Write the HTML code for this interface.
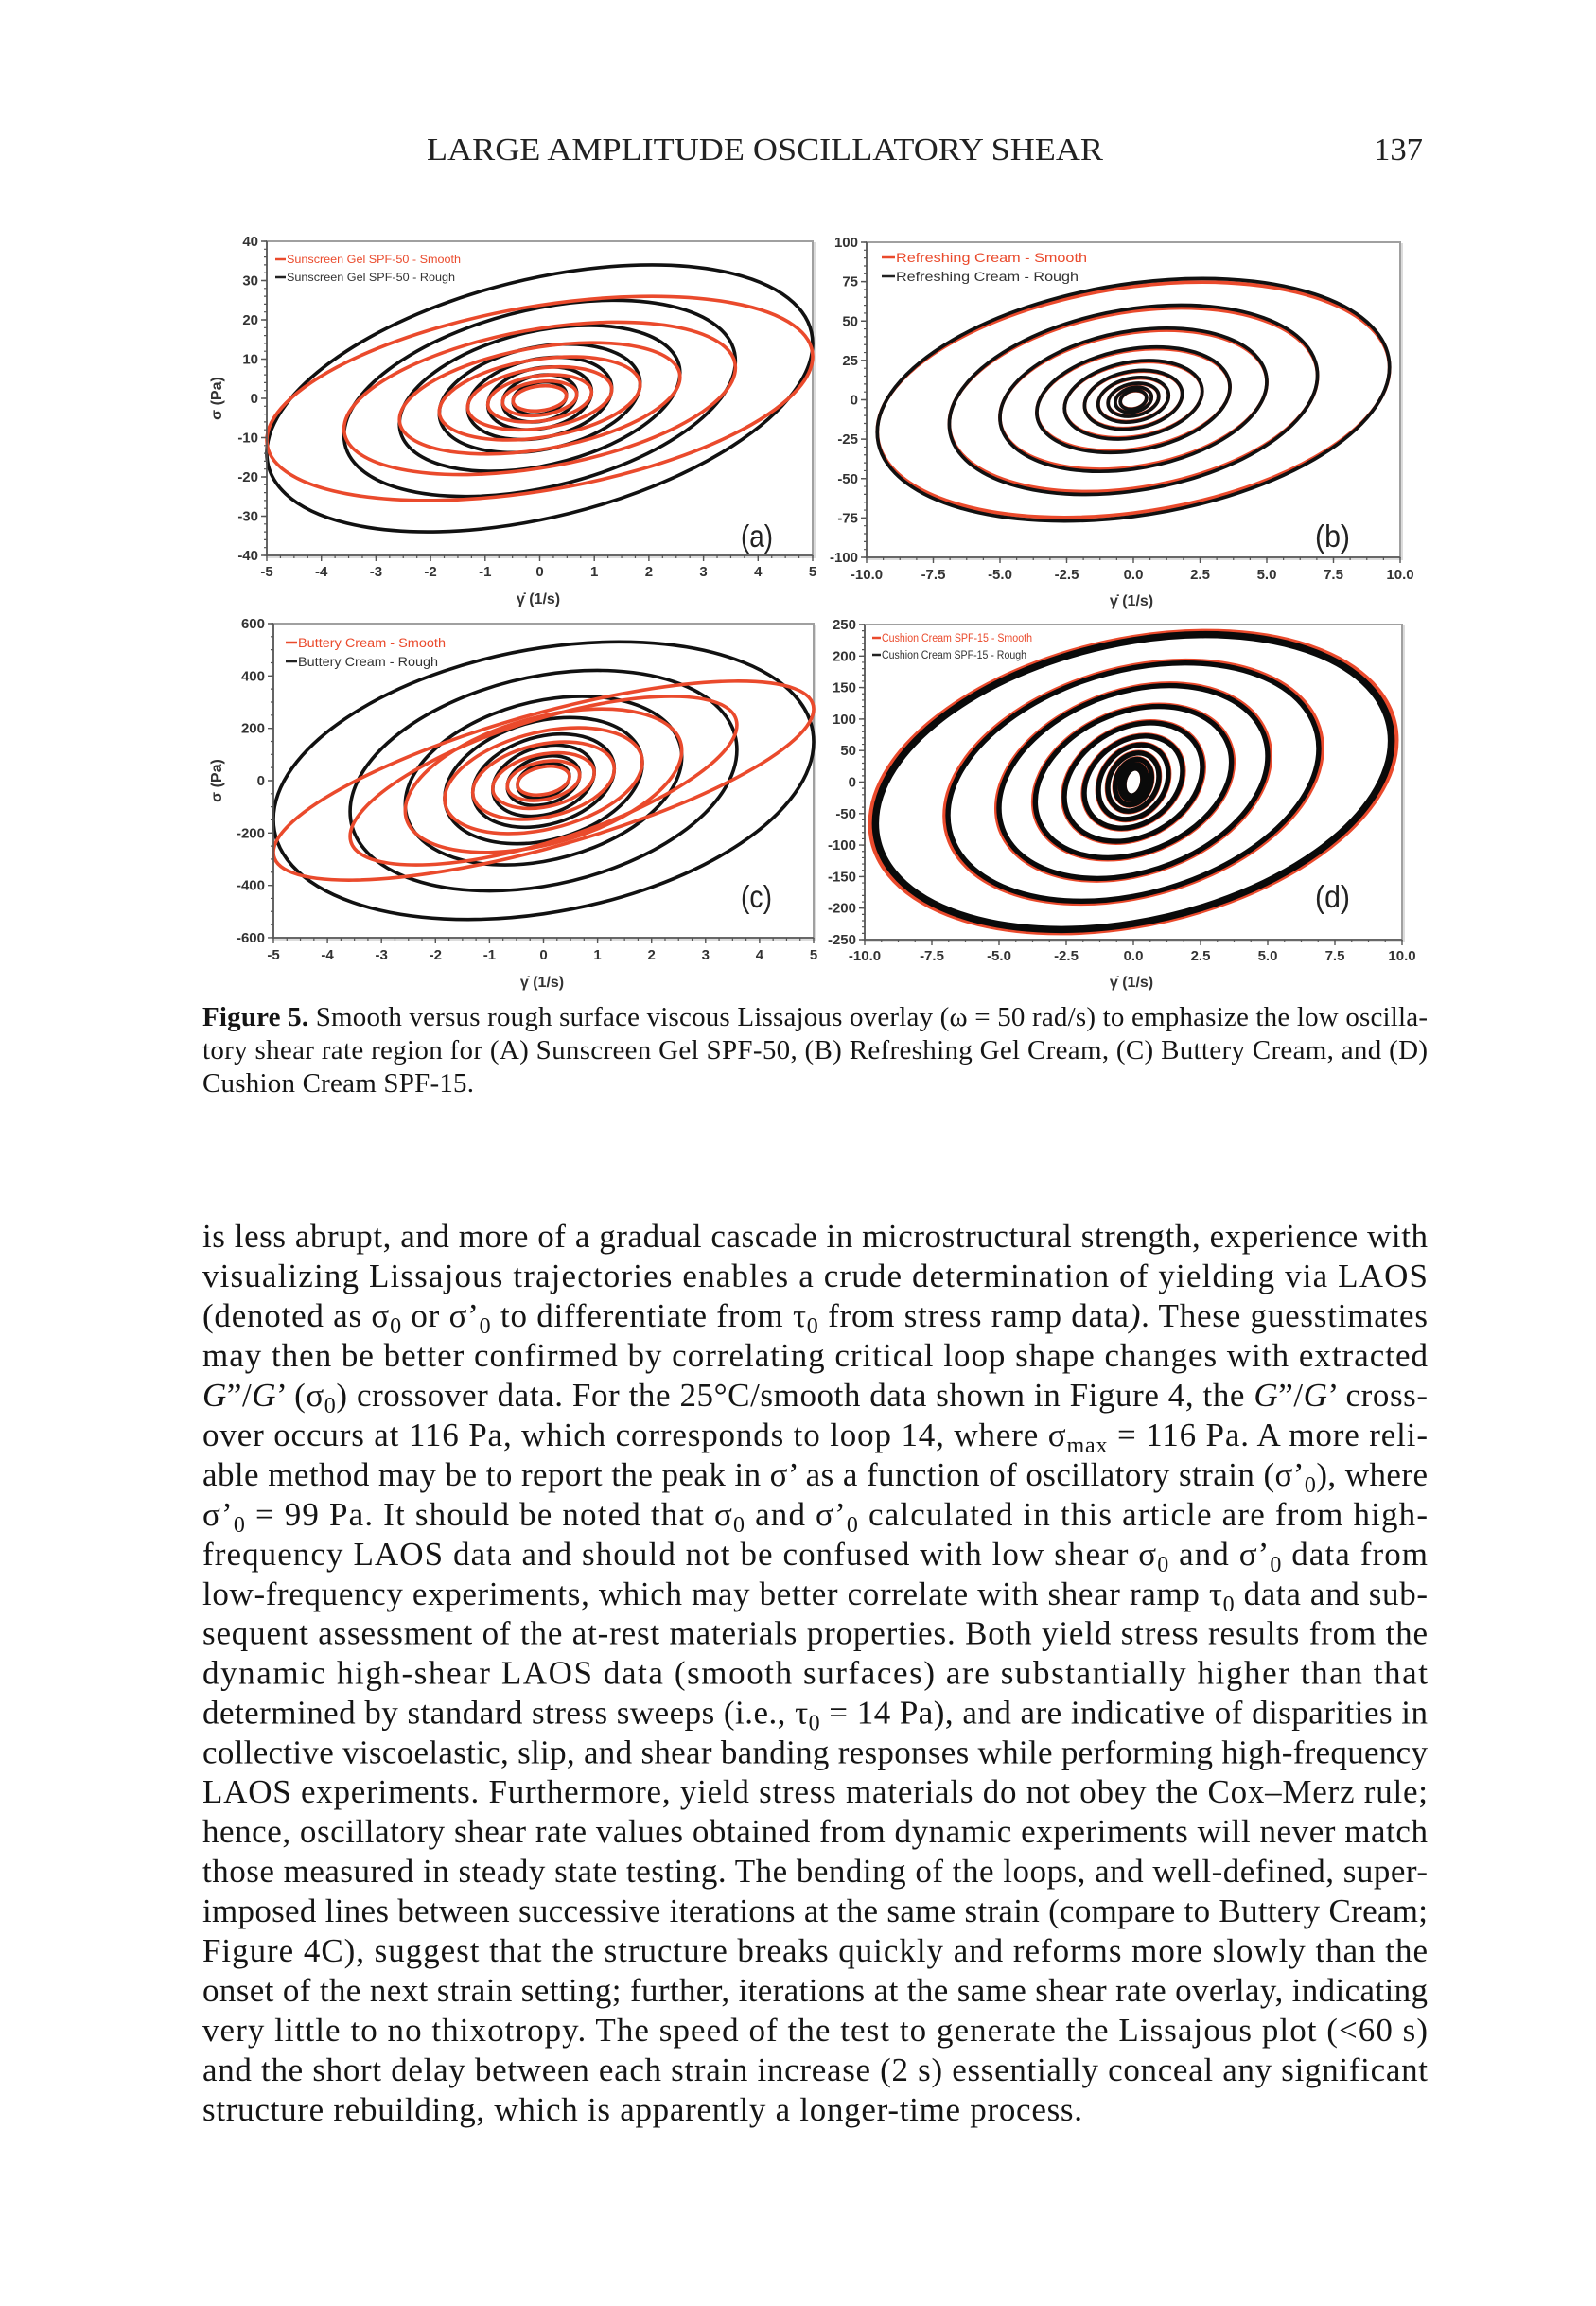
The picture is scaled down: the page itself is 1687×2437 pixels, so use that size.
<!DOCTYPE html>
<html><head><meta charset="utf-8"><style>
html,body{margin:0;padding:0;background:#fff;}
svg{display:block;}
.tk{font-family:"Liberation Sans",Arial,sans-serif;font-weight:bold;font-size:15px;fill:#333;}
.tl{font-family:"Liberation Sans",Arial,sans-serif;font-weight:bold;font-size:16px;fill:#333;}
.lg{font-family:"Liberation Sans",Arial,sans-serif;}
.pl{font-family:"Liberation Sans",Arial,sans-serif;font-size:33px;fill:#222;}
.bt{font-family:"Liberation Serif","Times New Roman",serif;font-size:35px;fill:#151515;}
.cp{font-family:"Liberation Serif","Times New Roman",serif;font-size:29px;fill:#151515;}
.hd{font-family:"Liberation Serif","Times New Roman",serif;font-size:34px;fill:#222;}
</style></head><body>
<svg width="1687" height="2437" viewBox="0 0 1687 2437" xmlns="http://www.w3.org/2000/svg">
<rect width="1687" height="2437" fill="#fff"/>

<!-- Header -->
<text class="hd" x="451" y="169" textLength="715" lengthAdjust="spacingAndGlyphs">LARGE AMPLITUDE OSCILLATORY SHEAR</text>
<text class="hd" x="1452" y="169" textLength="52" lengthAdjust="spacingAndGlyphs">137</text>

<!-- ================= PANEL A ================= -->
<g>
<rect x="284" y="257" width="577" height="332" fill="none" stroke="#dcdcdc" stroke-width="2"/>
<rect x="282" y="255" width="577" height="332" fill="#fff" stroke="#a0a0a0" stroke-width="2"/>
<g transform="translate(570.5 421) scale(57.7 -4.15)" fill="none">
<g stroke="#111" stroke-width="3.6">
<circle r="1" vector-effect="non-scaling-stroke" transform="matrix(0 31 5 13.94 0 0)"/>
<circle r="1" vector-effect="non-scaling-stroke" transform="matrix(0 23.1 3.585 9.5 0 0)"/>
<circle r="1" vector-effect="non-scaling-stroke" transform="matrix(0 17.4 2.57 6.5 0 0)"/>
<circle r="1" vector-effect="non-scaling-stroke" transform="matrix(0 13.25 1.84 3.86 0 0)"/>
<circle r="1" vector-effect="non-scaling-stroke" transform="matrix(0 10.16 1.32 2.63 0 0)"/>
<circle r="1" vector-effect="non-scaling-stroke" transform="matrix(0 7.8 0.95 1.76 0 0)"/>
<circle r="1" vector-effect="non-scaling-stroke" transform="matrix(0 5.88 0.68 1.2 0 0)"/>
<circle r="1" vector-effect="non-scaling-stroke" transform="matrix(0 4.12 0.49 0.84 0 0)"/>
</g>
<g stroke="#ea4a2c" stroke-width="3.6">
<circle r="1" vector-effect="non-scaling-stroke" transform="matrix(0 23.7 5 10.66 0 0)"/>
<circle r="1" vector-effect="non-scaling-stroke" transform="matrix(0 17.8 3.585 7.76 0 0)"/>
<circle r="1" vector-effect="non-scaling-stroke" transform="matrix(0 13.1 2.57 5.4 0 0)"/>
<circle r="1" vector-effect="non-scaling-stroke" transform="matrix(0 10.04 1.84 3.39 0 0)"/>
<circle r="1" vector-effect="non-scaling-stroke" transform="matrix(0 7.68 1.32 2.24 0 0)"/>
<circle r="1" vector-effect="non-scaling-stroke" transform="matrix(0 5.81 0.95 1.5 0 0)"/>
<circle r="1" vector-effect="non-scaling-stroke" transform="matrix(0 4.29 0.68 0.97 0 0)"/>
<circle r="1" vector-effect="non-scaling-stroke" transform="matrix(0 3.14 0.49 0.64 0 0)"/>
</g>
</g>
<g stroke="#555">
<line x1="282" y1="255" x2="282" y2="588" stroke-width="1.6"/>
<line x1="281" y1="587" x2="859" y2="587" stroke-width="1.6"/>
<line x1="280.5" y1="254.4" x2="280.5" y2="588" stroke-width="3" stroke-dasharray="1.2 7.1"/>
<line x1="279" y1="254.3" x2="279" y2="588" stroke-width="6" stroke-dasharray="1.4 40.1"/>
<line x1="281.4" y1="588.5" x2="860" y2="588.5" stroke-width="3" stroke-dasharray="1.2 13.225"/>
<line x1="281.3" y1="590" x2="860" y2="590" stroke-width="6" stroke-dasharray="1.4 56.3"/>
</g>
<g class="tk" text-anchor="end">
<text x="273" y="260">40</text><text x="273" y="301.5">30</text><text x="273" y="343">20</text>
<text x="273" y="384.5">10</text><text x="273" y="426">0</text><text x="273" y="467.5">-10</text>
<text x="273" y="509">-20</text><text x="273" y="550.5">-30</text><text x="273" y="592">-40</text>
</g>
<g class="tk" text-anchor="middle">
<text x="282" y="609">-5</text><text x="339.7" y="609">-4</text><text x="397.4" y="609">-3</text>
<text x="455.1" y="609">-2</text><text x="512.8" y="609">-1</text><text x="570.5" y="609">0</text>
<text x="628.2" y="609">1</text><text x="685.9" y="609">2</text><text x="743.6" y="609">3</text>
<text x="801.3" y="609">4</text><text x="859" y="609">5</text>
</g>
<text class="tl" x="569" y="638" text-anchor="middle">γ̇  (1/s)</text>
<text class="tl" transform="translate(234 421) rotate(-90)" text-anchor="middle">σ  (Pa)</text>
<line x1="291" y1="274" x2="302" y2="274" stroke="#ea4a2c" stroke-width="2.5"/>
<line x1="291" y1="293" x2="302" y2="293" stroke="#222" stroke-width="2.5"/>
<text class="lg" x="303" y="278" font-size="12" fill="#ea4a2c" textLength="184" lengthAdjust="spacingAndGlyphs">Sunscreen Gel SPF-50 - Smooth</text>
<text class="lg" x="303" y="297" font-size="12" fill="#333" textLength="178" lengthAdjust="spacingAndGlyphs">Sunscreen Gel SPF-50 - Rough</text>
<text class="pl" x="783" y="578" textLength="34" lengthAdjust="spacingAndGlyphs">(a)</text>
</g>

<!-- ================= PANEL B ================= -->
<g>
<rect x="918" y="258" width="564" height="333" fill="none" stroke="#dcdcdc" stroke-width="2"/>
<rect x="916" y="256" width="564" height="333" fill="#fff" stroke="#a0a0a0" stroke-width="2"/>
<g transform="translate(1198 422.5) scale(28.2 -1.665)" fill="none">
<g stroke="#ea4a2c" stroke-width="3.8">
<circle r="1" vector-effect="non-scaling-stroke" transform="matrix(0 71.9 9.6 20.2 0 0)"/>
<circle r="1" vector-effect="non-scaling-stroke" transform="matrix(0 56.3 6.9 15.1 0 0)"/>
<circle r="1" vector-effect="non-scaling-stroke" transform="matrix(0 42.7 5 11.1 0 0)"/>
<circle r="1" vector-effect="non-scaling-stroke" transform="matrix(0 31.5 3.62 7.8 0 0)"/>
<circle r="1" vector-effect="non-scaling-stroke" transform="matrix(0 23.6 2.58 5.3 0 0)"/>
<circle r="1" vector-effect="non-scaling-stroke" transform="matrix(0 17.8 1.83 3.63 0 0)"/>
<circle r="1" vector-effect="non-scaling-stroke" transform="matrix(0 13.5 1.32 2.75 0 0)"/>
<circle r="1" vector-effect="non-scaling-stroke" transform="matrix(0 10 0.95 2.04 0 0)"/>
<circle r="1" vector-effect="non-scaling-stroke" transform="matrix(0 7.6 0.68 1.55 0 0)"/>
<circle r="1" vector-effect="non-scaling-stroke" transform="matrix(0 5.7 0.49 1.16 0 0)"/>
</g>
<g stroke="#111" stroke-width="3.7">
<circle r="1" vector-effect="non-scaling-stroke" transform="matrix(0 74.1 9.6 20.8 0 0)"/>
<circle r="1" vector-effect="non-scaling-stroke" transform="matrix(0 58 6.9 15.6 0 0)"/>
<circle r="1" vector-effect="non-scaling-stroke" transform="matrix(0 44 5 11.4 0 0)"/>
<circle r="1" vector-effect="non-scaling-stroke" transform="matrix(0 32.5 3.62 8.04 0 0)"/>
<circle r="1" vector-effect="non-scaling-stroke" transform="matrix(0 24.3 2.58 5.48 0 0)"/>
<circle r="1" vector-effect="non-scaling-stroke" transform="matrix(0 18.3 1.83 3.74 0 0)"/>
<circle r="1" vector-effect="non-scaling-stroke" transform="matrix(0 13.9 1.32 2.84 0 0)"/>
<circle r="1" vector-effect="non-scaling-stroke" transform="matrix(0 10.3 0.95 2.1 0 0)"/>
<circle r="1" vector-effect="non-scaling-stroke" transform="matrix(0 7.84 0.68 1.6 0 0)"/>
<circle r="1" vector-effect="non-scaling-stroke" transform="matrix(0 5.88 0.49 1.2 0 0)"/>
</g>
</g>
<g stroke="#555">
<line x1="916" y1="256" x2="916" y2="590" stroke-width="1.6"/>
<line x1="915" y1="589" x2="1480" y2="589" stroke-width="1.6"/>
<line x1="914.5" y1="255.4" x2="914.5" y2="590" stroke-width="3" stroke-dasharray="1.2 7.125"/>
<line x1="913" y1="255.3" x2="913" y2="590" stroke-width="6" stroke-dasharray="1.4 40.225"/>
<line x1="915.4" y1="590.5" x2="1481" y2="590.5" stroke-width="3" stroke-dasharray="1.2 16.425"/>
<line x1="915.3" y1="592" x2="1481" y2="592" stroke-width="6" stroke-dasharray="1.4 69.1"/>
</g>
<g class="tk" text-anchor="end">
<text x="907" y="261">100</text><text x="907" y="302.6">75</text><text x="907" y="344.3">50</text>
<text x="907" y="385.9">25</text><text x="907" y="427.5">0</text><text x="907" y="469.1">-25</text>
<text x="907" y="510.8">-50</text><text x="907" y="552.4">-75</text><text x="907" y="594">-100</text>
</g>
<g class="tk" text-anchor="middle">
<text x="916" y="612">-10.0</text><text x="986.5" y="612">-7.5</text><text x="1057" y="612">-5.0</text>
<text x="1127.5" y="612">-2.5</text><text x="1198" y="612">0.0</text><text x="1268.5" y="612">2.5</text>
<text x="1339" y="612">5.0</text><text x="1409.5" y="612">7.5</text><text x="1480" y="612">10.0</text>
</g>
<text class="tl" x="1196" y="640" text-anchor="middle">γ̇  (1/s)</text>
<line x1="932" y1="272" x2="946" y2="272" stroke="#ea4a2c" stroke-width="2.5"/>
<line x1="932" y1="292" x2="946" y2="292" stroke="#222" stroke-width="2.5"/>
<text class="lg" x="947" y="277" font-size="14" fill="#ea4a2c" textLength="202" lengthAdjust="spacingAndGlyphs">Refreshing Cream - Smooth</text>
<text class="lg" x="947" y="297" font-size="14" fill="#333" textLength="193" lengthAdjust="spacingAndGlyphs">Refreshing Cream - Rough</text>
<text class="pl" x="1390" y="578" textLength="37" lengthAdjust="spacingAndGlyphs">(b)</text>
</g>

<!-- ================= PANEL C ================= -->
<g>
<rect x="291" y="661" width="571" height="332" fill="none" stroke="#dcdcdc" stroke-width="2"/>
<rect x="289" y="659" width="571" height="332" fill="#fff" stroke="#a0a0a0" stroke-width="2"/>
<g transform="translate(574.5 825) scale(57.1 -0.2767)" fill="none">
<g stroke="#111" stroke-width="3.6">
<circle r="1" vector-effect="non-scaling-stroke" transform="matrix(0 508.8 5 148.4 0 0)"/>
<circle r="1" vector-effect="non-scaling-stroke" transform="matrix(0 404.2 3.58 117.9 0 0)"/>
<circle r="1" vector-effect="non-scaling-stroke" transform="matrix(0 309.1 2.56 90.2 0 0)"/>
<circle r="1" vector-effect="non-scaling-stroke" transform="matrix(0 232.1 1.83 65.1 0 0)"/>
<circle r="1" vector-effect="non-scaling-stroke" transform="matrix(0 171.9 1.31 46.3 0 0)"/>
<circle r="1" vector-effect="non-scaling-stroke" transform="matrix(0 131.6 0.94 34 0 0)"/>
<circle r="1" vector-effect="non-scaling-stroke" transform="matrix(0 92 0.67 23.75 0 0)"/>
<circle r="1" vector-effect="non-scaling-stroke" transform="matrix(0 65.8 0.48 17 0 0)"/>
</g>
<g stroke="#ea4a2c" stroke-width="3.6">
<circle r="1" vector-effect="non-scaling-stroke" transform="matrix(0 263.7 5 273.6 0 0)"/>
<circle r="1" vector-effect="non-scaling-stroke" transform="matrix(0 241.8 3.58 212.5 0 0)"/>
<circle r="1" vector-effect="non-scaling-stroke" transform="matrix(0 248.5 2.56 115.1 0 0)"/>
<circle r="1" vector-effect="non-scaling-stroke" transform="matrix(0 189.3 1.83 70.7 0 0)"/>
<circle r="1" vector-effect="non-scaling-stroke" transform="matrix(0 141.2 1.31 44.4 0 0)"/>
<circle r="1" vector-effect="non-scaling-stroke" transform="matrix(0 101.8 0.94 29.7 0 0)"/>
<circle r="1" vector-effect="non-scaling-stroke" transform="matrix(0 73.2 0.67 20.5 0 0)"/>
<circle r="1" vector-effect="non-scaling-stroke" transform="matrix(0 53.1 0.48 14.3 0 0)"/>
</g>
</g>
<g stroke="#555">
<line x1="289" y1="659" x2="289" y2="992" stroke-width="1.6"/>
<line x1="288" y1="991" x2="860" y2="991" stroke-width="1.6"/>
<line x1="287.5" y1="658.4" x2="287.5" y2="992" stroke-width="3" stroke-dasharray="1.2 12.63"/>
<line x1="286" y1="658.3" x2="286" y2="992" stroke-width="6" stroke-dasharray="1.4 53.93"/>
<line x1="288.4" y1="992.5" x2="861" y2="992.5" stroke-width="3" stroke-dasharray="1.2 13.075"/>
<line x1="288.3" y1="994" x2="861" y2="994" stroke-width="6" stroke-dasharray="1.4 55.7"/>
</g>
<g class="tk" text-anchor="end">
<text x="280" y="664">600</text><text x="280" y="719.3">400</text><text x="280" y="774.7">200</text>
<text x="280" y="830">0</text><text x="280" y="885.3">-200</text><text x="280" y="940.7">-400</text>
<text x="280" y="996">-600</text>
</g>
<g class="tk" text-anchor="middle">
<text x="289" y="1014">-5</text><text x="346.1" y="1014">-4</text><text x="403.2" y="1014">-3</text>
<text x="460.3" y="1014">-2</text><text x="517.4" y="1014">-1</text><text x="574.5" y="1014">0</text>
<text x="631.6" y="1014">1</text><text x="688.7" y="1014">2</text><text x="745.8" y="1014">3</text>
<text x="802.9" y="1014">4</text><text x="860" y="1014">5</text>
</g>
<text class="tl" x="573" y="1043" text-anchor="middle">γ̇  (1/s)</text>
<text class="tl" transform="translate(234 825) rotate(-90)" text-anchor="middle">σ  (Pa)</text>
<line x1="302" y1="679" x2="314" y2="679" stroke="#ea4a2c" stroke-width="2.5"/>
<line x1="302" y1="699" x2="314" y2="699" stroke="#222" stroke-width="2.5"/>
<text class="lg" x="315" y="684" font-size="13.5" fill="#ea4a2c" textLength="156" lengthAdjust="spacingAndGlyphs">Buttery Cream - Smooth</text>
<text class="lg" x="315" y="704" font-size="13.5" fill="#333" textLength="148" lengthAdjust="spacingAndGlyphs">Buttery Cream - Rough</text>
<text class="pl" x="783" y="959" textLength="33" lengthAdjust="spacingAndGlyphs">(c)</text>
</g>

<!-- ================= PANEL D ================= -->
<g>
<rect x="916" y="662" width="568" height="333" fill="none" stroke="#dcdcdc" stroke-width="2"/>
<rect x="914" y="660" width="568" height="333" fill="#fff" stroke="#a0a0a0" stroke-width="2"/>
<g transform="translate(1198 826.5) scale(28.4 -0.666)" fill="none">
<g transform="scale(1.015)" stroke="#ea4a2c" stroke-width="5.8">
<circle r="1" vector-effect="non-scaling-stroke" stroke-width="7.5" transform="matrix(0 224.6 9.6 65.5 0 0)"/>
<circle r="1" vector-effect="non-scaling-stroke" transform="matrix(0 181.4 6.9 52.9 0 0)"/>
<circle r="1" vector-effect="non-scaling-stroke" transform="matrix(0 147.3 5 41.3 0 0)"/>
<circle r="1" vector-effect="non-scaling-stroke" transform="matrix(0 115.9 3.65 31.2 0 0)"/>
<circle r="1" vector-effect="non-scaling-stroke" transform="matrix(0 91 2.57 23.5 0 0)"/>
<circle r="1" vector-effect="non-scaling-stroke" transform="matrix(0 70.9 1.83 17.5 0 0)"/>
<circle r="1" vector-effect="non-scaling-stroke" transform="matrix(0 57.5 1.3 13 0 0)"/>
<circle r="1" vector-effect="non-scaling-stroke" transform="matrix(0 45.1 0.95 9.2 0 0)"/>
<circle r="1" vector-effect="non-scaling-stroke" transform="matrix(0 35.3 0.68 7.2 0 0)"/>
<circle r="1" vector-effect="non-scaling-stroke" transform="matrix(0 27.4 0.49 5.6 0 0)"/>
<circle r="1" vector-effect="non-scaling-stroke" transform="matrix(0 21.6 0.35 4.4 0 0)"/>
</g>
<g stroke="#0a0a0a" stroke-width="5.4">
<circle r="1" vector-effect="non-scaling-stroke" stroke-width="7.5" transform="matrix(0 224.6 9.6 65.5 0 0)"/>
<circle r="1" vector-effect="non-scaling-stroke" transform="matrix(0 181.4 6.9 52.9 0 0)"/>
<circle r="1" vector-effect="non-scaling-stroke" transform="matrix(0 147.3 5 41.3 0 0)"/>
<circle r="1" vector-effect="non-scaling-stroke" transform="matrix(0 115.9 3.65 31.2 0 0)"/>
<circle r="1" vector-effect="non-scaling-stroke" transform="matrix(0 91 2.57 23.5 0 0)"/>
<circle r="1" vector-effect="non-scaling-stroke" transform="matrix(0 70.9 1.83 17.5 0 0)"/>
<circle r="1" vector-effect="non-scaling-stroke" transform="matrix(0 57.5 1.3 13 0 0)"/>
<circle r="1" vector-effect="non-scaling-stroke" transform="matrix(0 45.1 0.95 9.2 0 0)"/>
<circle r="1" vector-effect="non-scaling-stroke" transform="matrix(0 35.3 0.68 7.2 0 0)"/>
<circle r="1" vector-effect="non-scaling-stroke" transform="matrix(0 27.4 0.49 5.6 0 0)"/>
<circle r="1" vector-effect="non-scaling-stroke" transform="matrix(0 21.6 0.35 4.4 0 0)"/>
</g>
</g>
<g stroke="#555">
<line x1="914" y1="660" x2="914" y2="994" stroke-width="1.6"/>
<line x1="913" y1="993" x2="1482" y2="993" stroke-width="1.6"/>
<line x1="912.5" y1="659.4" x2="912.5" y2="994" stroke-width="3" stroke-dasharray="1.2 5.46"/>
<line x1="911" y1="659.3" x2="911" y2="994" stroke-width="6" stroke-dasharray="1.4 31.9"/>
<line x1="913.4" y1="994.5" x2="1483" y2="994.5" stroke-width="3" stroke-dasharray="1.2 16.55"/>
<line x1="913.3" y1="996" x2="1483" y2="996" stroke-width="6" stroke-dasharray="1.4 69.6"/>
</g>
<g class="tk" text-anchor="end">
<text x="905" y="665">250</text><text x="905" y="698.3">200</text><text x="905" y="731.6">150</text>
<text x="905" y="764.9">100</text><text x="905" y="798.2">50</text><text x="905" y="831.5">0</text>
<text x="905" y="864.8">-50</text><text x="905" y="898.1">-100</text><text x="905" y="931.4">-150</text>
<text x="905" y="964.7">-200</text><text x="905" y="998">-250</text>
</g>
<g class="tk" text-anchor="middle">
<text x="914" y="1015">-10.0</text><text x="985" y="1015">-7.5</text><text x="1056" y="1015">-5.0</text>
<text x="1127" y="1015">-2.5</text><text x="1198" y="1015">0.0</text><text x="1269" y="1015">2.5</text>
<text x="1340" y="1015">5.0</text><text x="1411" y="1015">7.5</text><text x="1482" y="1015">10.0</text>
</g>
<text class="tl" x="1196" y="1043" text-anchor="middle">γ̇  (1/s)</text>
<line x1="922" y1="674" x2="931" y2="674" stroke="#ea4a2c" stroke-width="2.5"/>
<line x1="922" y1="692" x2="931" y2="692" stroke="#222" stroke-width="2.5"/>
<text class="lg" x="932" y="678" font-size="11.5" fill="#ea4a2c" textLength="159" lengthAdjust="spacingAndGlyphs">Cushion Cream SPF-15 - Smooth</text>
<text class="lg" x="932" y="696" font-size="11.5" fill="#333" textLength="153" lengthAdjust="spacingAndGlyphs">Cushion Cream SPF-15 - Rough</text>
<text class="pl" x="1390" y="959" textLength="37" lengthAdjust="spacingAndGlyphs">(d)</text>
</g>

<!-- ================= CAPTION ================= -->
<text class="cp" x="214" y="1084" textLength="1295" lengthAdjust="spacing"><tspan font-weight="bold">Figure 5.</tspan>  Smooth versus rough surface viscous Lissajous overlay (ω = 50 rad/s) to emphasize the low oscilla-</text>
<text class="cp" x="214" y="1119" textLength="1295" lengthAdjust="spacing">tory shear rate region for (A) Sunscreen Gel SPF-50, (B) Refreshing Gel Cream, (C) Buttery Cream, and (D)</text>
<text class="cp" x="214" y="1154" textLength="287" lengthAdjust="spacing">Cushion Cream SPF-15.</text>

<!-- ================= BODY ================= -->
<g class="bt">
<text x="214" y="1318" textLength="1295" lengthAdjust="spacing">is less abrupt, and more of a gradual cascade in microstructural strength, experience with</text>
<text x="214" y="1360" textLength="1295" lengthAdjust="spacing">visualizing Lissajous trajectories enables a crude determination of yielding via LAOS</text>
<text x="214" y="1402" textLength="1295" lengthAdjust="spacing">(denoted as σ<tspan dy="7" font-size="24">0</tspan><tspan dy="-7"> or σ’</tspan><tspan dy="7" font-size="24">0</tspan><tspan dy="-7"> to differentiate from τ</tspan><tspan dy="7" font-size="24">0</tspan><tspan dy="-7"> from stress ramp data</tspan><tspan font-style="italic">)</tspan>. These guesstimates</text>
<text x="214" y="1444" textLength="1295" lengthAdjust="spacing">may then be better confirmed by correlating critical loop shape changes with extracted</text>
<text x="214" y="1486" textLength="1295" lengthAdjust="spacing"><tspan font-style="italic">G</tspan>”/<tspan font-style="italic">G</tspan>’ (σ<tspan dy="7" font-size="24">0</tspan><tspan dy="-7">) crossover data. For the 25°C/smooth data shown in Figure 4, the </tspan><tspan font-style="italic">G</tspan>”/<tspan font-style="italic">G</tspan>’ cross-</text>
<text x="214" y="1528" textLength="1295" lengthAdjust="spacing">over occurs at 116 Pa, which corresponds to loop 14, where σ<tspan dy="7" font-size="24">max</tspan><tspan dy="-7"> = 116 Pa. A more reli-</tspan></text>
<text x="214" y="1570" textLength="1295" lengthAdjust="spacing">able method may be to report the peak in σ’ as a function of oscillatory strain (σ’<tspan dy="7" font-size="24">0</tspan><tspan dy="-7">), where</tspan></text>
<text x="214" y="1612" textLength="1295" lengthAdjust="spacing">σ’<tspan dy="7" font-size="24">0</tspan><tspan dy="-7"> = 99 Pa. It should be noted that σ</tspan><tspan dy="7" font-size="24">0</tspan><tspan dy="-7"> and σ’</tspan><tspan dy="7" font-size="24">0</tspan><tspan dy="-7"> calculated in this article are from high-</tspan></text>
<text x="214" y="1654" textLength="1295" lengthAdjust="spacing">frequency LAOS data and should not be confused with low shear σ<tspan dy="7" font-size="24">0</tspan><tspan dy="-7"> and σ’</tspan><tspan dy="7" font-size="24">0</tspan><tspan dy="-7"> data from</tspan></text>
<text x="214" y="1696" textLength="1295" lengthAdjust="spacing">low-frequency experiments, which may better correlate with shear ramp τ<tspan dy="7" font-size="24">0</tspan><tspan dy="-7"> data and sub-</tspan></text>
<text x="214" y="1737.5" textLength="1295" lengthAdjust="spacing">sequent assessment of the at-rest materials properties. Both yield stress results from the</text>
<text x="214" y="1779.5" textLength="1295" lengthAdjust="spacing">dynamic high-shear LAOS data (smooth surfaces) are substantially higher than that</text>
<text x="214" y="1821.5" textLength="1295" lengthAdjust="spacing">determined by standard stress sweeps (i.e., τ<tspan dy="7" font-size="24">0</tspan><tspan dy="-7"> = 14 Pa), and are indicative of disparities in</tspan></text>
<text x="214" y="1863.5" textLength="1295" lengthAdjust="spacing">collective viscoelastic, slip, and shear banding responses while performing high-frequency</text>
<text x="214" y="1905" textLength="1295" lengthAdjust="spacing">LAOS experiments. Furthermore, yield stress materials do not obey the Cox–Merz rule;</text>
<text x="214" y="1947" textLength="1295" lengthAdjust="spacing">hence, oscillatory shear rate values obtained from dynamic experiments will never match</text>
<text x="214" y="1989" textLength="1295" lengthAdjust="spacing">those measured in steady state testing. The bending of the loops, and well-defined, super-</text>
<text x="214" y="2031" textLength="1295" lengthAdjust="spacing">imposed lines between successive iterations at the same strain (compare to Buttery Cream;</text>
<text x="214" y="2073" textLength="1295" lengthAdjust="spacing">Figure 4C), suggest that the structure breaks quickly and reforms more slowly than the</text>
<text x="214" y="2115" textLength="1295" lengthAdjust="spacing">onset of the next strain setting; further, iterations at the same shear rate overlay, indicating</text>
<text x="214" y="2157" textLength="1295" lengthAdjust="spacing">very little to no thixotropy. The speed of the test to generate the Lissajous plot (&lt;60 s)</text>
<text x="214" y="2199" textLength="1295" lengthAdjust="spacing">and the short delay between each strain increase (2 s) essentially conceal any significant</text>
<text x="214" y="2241" textLength="930" lengthAdjust="spacing">structure rebuilding, which is apparently a longer-time process.</text>
</g>
</svg>
</body></html>
